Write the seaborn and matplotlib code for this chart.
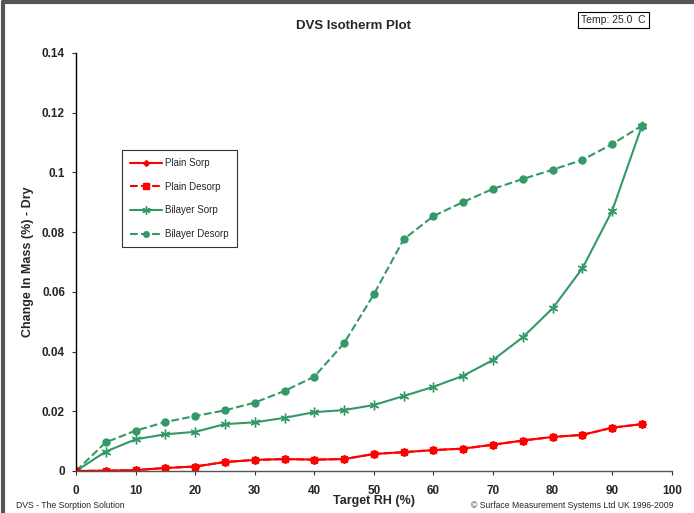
import matplotlib
matplotlib.use("Agg")
import matplotlib.pyplot as plt
import seaborn as sns
import pandas as pd
from matplotlib.ticker import FuncFormatter, MultipleLocator
from matplotlib.lines import Line2D

# Target relative humidity steps (%)
target_rh = [0, 5, 10, 15, 20, 25, 30, 35, 40, 45, 50, 55, 60, 65, 70, 75, 80, 85, 90, 95]

# Change in mass (%) relative to dry mass
plain_sorp = [0.0, 0.0001, 0.0003, 0.0010, 0.0015, 0.0030, 0.0037, 0.0040, 0.0038, 0.0040,
              0.0057, 0.0063, 0.0070, 0.0075, 0.0088, 0.0102, 0.0114, 0.0121, 0.0145, 0.0157]
plain_desorp = [0.0, 0.0001, 0.0003, 0.0010, 0.0015, 0.0030, 0.0037, 0.0040, 0.0038, 0.0040,
                0.0057, 0.0063, 0.0070, 0.0075, 0.0088, 0.0102, 0.0114, 0.0121, 0.0145, 0.0157]
bilayer_sorp = [0.0, 0.0065, 0.0106, 0.0123, 0.0131, 0.0157, 0.0163, 0.0178, 0.0197, 0.0204,
                0.0221, 0.0251, 0.0282, 0.0319, 0.0372, 0.0448, 0.0545, 0.0679, 0.0872, 0.1157]
bilayer_desorp = [0.0, 0.0096, 0.0135, 0.0164, 0.0184, 0.0203, 0.0229, 0.0268, 0.0316, 0.0428,
                  0.0592, 0.0776, 0.0854, 0.0901, 0.0945, 0.0978, 0.1009, 0.1042, 0.1095, 0.1157]

series_names = ["Plain Sorp", "Plain Desorp", "Bilayer Sorp", "Bilayer Desorp"]

title = "DVS Isotherm Plot"
x_label = "Target RH (%)"
y_label = "Change In Mass (%) - Dry"
temp_text = "Temp: 25.0  C"
footer_left = "DVS - The Sorption Solution"
footer_right = "\u00a9 Surface Measurement Systems Ltd UK 1996-2009"

sns.set_theme(style="white")
plt.rcParams["font.family"] = ["Liberation Sans", "DejaVu Sans"]

RED = "#FF0000"
GREEN = "#339966"

styles = {
    "Plain Sorp": dict(color=RED, marker="D", linestyle="-", markersize=4),
    "Plain Desorp": dict(color=RED, marker="s", linestyle="--", markersize=5),
    "Bilayer Sorp": dict(color=GREEN, marker=(6, 2, 0), linestyle="-", markersize=7),
    "Bilayer Desorp": dict(color=GREEN, marker="o", linestyle="--", markersize=5),
}

df = pd.DataFrame({
    "rh": target_rh * 4,
    "mass": plain_sorp + plain_desorp + bilayer_sorp + bilayer_desorp,
    "series": sum([[n] * len(target_rh) for n in series_names], []),
})

fig = plt.figure(figsize=(6.94, 5.13), dpi=100)
ax = fig.add_axes([0.1095, 0.0819, 0.8585, 0.8148])

# Draw the bilayer curves first so the red plain curves sit on top at low RH
for name in ["Bilayer Desorp", "Bilayer Sorp", "Plain Sorp", "Plain Desorp"]:
    st = styles[name]
    sub = df[df["series"] == name]
    sns.lineplot(data=sub, x="rh", y="mass", ax=ax, color=st["color"],
                 linestyle=st["linestyle"], marker=st["marker"],
                 markersize=st["markersize"], markeredgecolor=st["color"],
                 markeredgewidth=1.0, linewidth=1.5, legend=False)

ax.set_xlim(0, 100)
ax.set_ylim(0, 0.14)
ax.xaxis.set_major_locator(MultipleLocator(10))
ax.yaxis.set_major_locator(MultipleLocator(0.02))
ax.yaxis.set_major_formatter(FuncFormatter(lambda v, _: f"{round(v, 2):g}"))

for side in ["top", "right"]:
    ax.spines[side].set_visible(False)
for side in ["left", "bottom"]:
    ax.spines[side].set_color("#000000")
    ax.spines[side].set_linewidth(1.0)
ax.spines["bottom"].set_color("#555555")

ax.tick_params(axis="both", which="major", direction="out", length=3, width=0.8,
               color="#333333", labelsize=8.5)
ax.tick_params(axis="x", bottom=True, pad=7)
ax.tick_params(axis="y", left=True, pad=5)
for lbl in ax.get_xticklabels() + ax.get_yticklabels():
    lbl.set_fontweight("bold")

ax.set_xlabel(x_label, fontsize=9, fontweight="bold", labelpad=-1)
ax.set_ylabel(y_label, fontsize=9, fontweight="bold", labelpad=6)
ax.grid(False)

# Legend box
handles = [Line2D([0], [0], color=styles[n]["color"], linestyle=styles[n]["linestyle"],
                  marker=styles[n]["marker"], markersize=styles[n]["markersize"] - 1,
                  markeredgecolor=styles[n]["color"], linewidth=1.5)
           for n in series_names]
leg = ax.legend(handles, series_names, loc="upper left",
                bbox_to_anchor=(0.077, 0.768), frameon=True, fancybox=False,
                fontsize=7, handlelength=3.3, labelspacing=1.4, borderpad=0.85,
                handletextpad=0.25, borderaxespad=0)
leg.get_frame().set_edgecolor("#000000")
leg.get_frame().set_linewidth(0.8)

fig.text(0.51, 0.949, title, ha="center", va="center", fontsize=9.5, fontweight="bold")
fig.text(0.8375, 0.9615, temp_text, ha="left", va="center", fontsize=7.5,
         bbox=dict(boxstyle="square,pad=0.3", facecolor="white", edgecolor="#000000",
                   linewidth=0.8))
fig.text(0.023, 0.015, footer_left, ha="left", va="center", fontsize=6.2)
fig.text(0.970, 0.015, footer_right, ha="right", va="center", fontsize=6.2)

# Chart-area border: heavy rule along the top and left edges
fig.add_artist(Line2D([0.004, 1.0], [0.996, 0.996], transform=fig.transFigure,
                      color="#555555", linewidth=3))
fig.add_artist(Line2D([0.004, 0.004], [0.0, 0.996], transform=fig.transFigure,
                      color="#555555", linewidth=3))

fig.savefig("out.png", dpi=100)
